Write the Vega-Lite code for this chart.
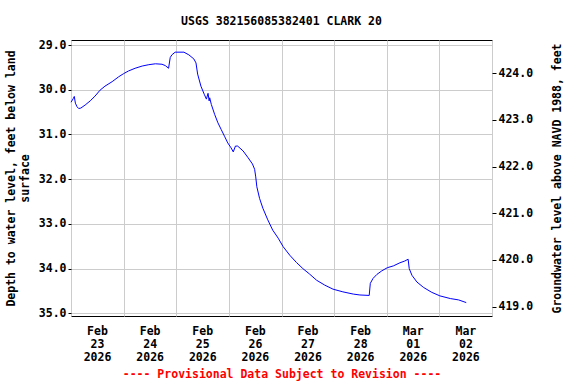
{
  "$schema": "https://vega.github.io/schema/vega-lite/v6.json",
  "autosize": {"type": "none"},
  "padding": {"left": 71, "top": 40, "right": 84, "bottom": 68},
  "width": 421,
  "height": 276,
  "title": {"text": "USGS 382156085382401 CLARK 20", "font": "DejaVu Sans Mono", "fontSize": 11.5, "fontWeight": "bold", "anchor": "middle", "offset": 12, "color": "black"},
  "config": {
    "view": {"stroke": "black", "strokeWidth": 1},
    "axis": {"labelFont": "DejaVu Sans Mono", "labelFontSize": 11.5, "labelFontWeight": "bold", "labelColor": "black", "titleFont": "DejaVu Sans Mono", "titleFontSize": 11.5, "titleFontWeight": "bold", "titleColor": "black", "gridColor": "#cccccc", "gridWidth": 1, "gridOpacity": 1, "domain": false, "tickColor": "black"}
  },
  "datasets": {
    "levels": [
      {"time": "2026-02-23T00:00:00Z", "depth": 30.28},
      {"time": "2026-02-23T01:00:00Z", "depth": 30.2},
      {"time": "2026-02-23T01:30:00Z", "depth": 30.15},
      {"time": "2026-02-23T02:00:00Z", "depth": 30.3},
      {"time": "2026-02-23T02:45:00Z", "depth": 30.38},
      {"time": "2026-02-23T03:30:00Z", "depth": 30.42},
      {"time": "2026-02-23T04:30:00Z", "depth": 30.41},
      {"time": "2026-02-23T06:30:00Z", "depth": 30.34},
      {"time": "2026-02-23T08:45:00Z", "depth": 30.25},
      {"time": "2026-02-23T11:00:00Z", "depth": 30.14},
      {"time": "2026-02-23T13:15:00Z", "depth": 30.01},
      {"time": "2026-02-23T15:30:00Z", "depth": 29.92},
      {"time": "2026-02-23T18:45:00Z", "depth": 29.82},
      {"time": "2026-02-23T21:45:00Z", "depth": 29.71},
      {"time": "2026-02-24T00:00:00Z", "depth": 29.64},
      {"time": "2026-02-24T02:15:00Z", "depth": 29.58},
      {"time": "2026-02-24T05:15:00Z", "depth": 29.52},
      {"time": "2026-02-24T08:30:00Z", "depth": 29.47},
      {"time": "2026-02-24T11:30:00Z", "depth": 29.44},
      {"time": "2026-02-24T14:30:00Z", "depth": 29.42},
      {"time": "2026-02-24T17:30:00Z", "depth": 29.43},
      {"time": "2026-02-24T19:00:00Z", "depth": 29.46},
      {"time": "2026-02-24T20:30:00Z", "depth": 29.52},
      {"time": "2026-02-24T21:15:00Z", "depth": 29.28},
      {"time": "2026-02-24T22:00:00Z", "depth": 29.22},
      {"time": "2026-02-24T23:30:00Z", "depth": 29.16},
      {"time": "2026-02-25T03:30:00Z", "depth": 29.16},
      {"time": "2026-02-25T05:45:00Z", "depth": 29.22},
      {"time": "2026-02-25T08:00:00Z", "depth": 29.31},
      {"time": "2026-02-25T09:00:00Z", "depth": 29.4},
      {"time": "2026-02-25T09:45:00Z", "depth": 29.65},
      {"time": "2026-02-25T11:15:00Z", "depth": 29.92},
      {"time": "2026-02-25T12:45:00Z", "depth": 30.1},
      {"time": "2026-02-25T13:45:00Z", "depth": 30.21},
      {"time": "2026-02-25T14:30:00Z", "depth": 30.08},
      {"time": "2026-02-25T15:00:00Z", "depth": 30.25},
      {"time": "2026-02-25T15:15:00Z", "depth": 30.18},
      {"time": "2026-02-25T16:00:00Z", "depth": 30.33},
      {"time": "2026-02-25T17:30:00Z", "depth": 30.55},
      {"time": "2026-02-25T19:00:00Z", "depth": 30.74},
      {"time": "2026-02-25T20:30:00Z", "depth": 30.89},
      {"time": "2026-02-25T22:00:00Z", "depth": 31.04},
      {"time": "2026-02-25T23:30:00Z", "depth": 31.19},
      {"time": "2026-02-26T01:00:00Z", "depth": 31.3},
      {"time": "2026-02-26T02:00:00Z", "depth": 31.39},
      {"time": "2026-02-26T03:00:00Z", "depth": 31.26},
      {"time": "2026-02-26T04:00:00Z", "depth": 31.26},
      {"time": "2026-02-26T06:30:00Z", "depth": 31.37},
      {"time": "2026-02-26T08:45:00Z", "depth": 31.52},
      {"time": "2026-02-26T10:45:00Z", "depth": 31.66},
      {"time": "2026-02-26T11:45:00Z", "depth": 31.78},
      {"time": "2026-02-26T12:15:00Z", "depth": 31.95},
      {"time": "2026-02-26T12:45:00Z", "depth": 32.17},
      {"time": "2026-02-26T14:00:00Z", "depth": 32.43},
      {"time": "2026-02-26T15:30:00Z", "depth": 32.65},
      {"time": "2026-02-26T17:45:00Z", "depth": 32.91},
      {"time": "2026-02-26T20:00:00Z", "depth": 33.14},
      {"time": "2026-02-26T22:30:00Z", "depth": 33.32},
      {"time": "2026-02-27T00:45:00Z", "depth": 33.51},
      {"time": "2026-02-27T03:45:00Z", "depth": 33.7},
      {"time": "2026-02-27T06:45:00Z", "depth": 33.86},
      {"time": "2026-02-27T09:45:00Z", "depth": 34.0},
      {"time": "2026-02-27T12:45:00Z", "depth": 34.12},
      {"time": "2026-02-27T16:00:00Z", "depth": 34.26},
      {"time": "2026-02-27T19:45:00Z", "depth": 34.37},
      {"time": "2026-02-27T23:30:00Z", "depth": 34.46},
      {"time": "2026-02-28T04:00:00Z", "depth": 34.52},
      {"time": "2026-02-28T08:45:00Z", "depth": 34.57},
      {"time": "2026-02-28T11:45:00Z", "depth": 34.59},
      {"time": "2026-02-28T16:00:00Z", "depth": 34.6},
      {"time": "2026-02-28T16:30:00Z", "depth": 34.33},
      {"time": "2026-02-28T17:45:00Z", "depth": 34.22},
      {"time": "2026-02-28T19:30:00Z", "depth": 34.13},
      {"time": "2026-02-28T21:45:00Z", "depth": 34.05},
      {"time": "2026-03-01T00:15:00Z", "depth": 33.98},
      {"time": "2026-03-01T03:00:00Z", "depth": 33.94},
      {"time": "2026-03-01T06:00:00Z", "depth": 33.87},
      {"time": "2026-03-01T08:15:00Z", "depth": 33.83},
      {"time": "2026-03-01T09:45:00Z", "depth": 33.79},
      {"time": "2026-03-01T10:15:00Z", "depth": 34.0},
      {"time": "2026-03-01T11:30:00Z", "depth": 34.15},
      {"time": "2026-03-01T13:45:00Z", "depth": 34.3},
      {"time": "2026-03-01T16:45:00Z", "depth": 34.42},
      {"time": "2026-03-01T20:30:00Z", "depth": 34.53},
      {"time": "2026-03-02T00:15:00Z", "depth": 34.61},
      {"time": "2026-03-02T05:00:00Z", "depth": 34.67},
      {"time": "2026-03-02T08:45:00Z", "depth": 34.7},
      {"time": "2026-03-02T12:15:00Z", "depth": 34.76}
    ],
    "elevation": [
      {"time": "2026-02-23T00:00:00Z", "elev": 419.0},
      {"time": "2026-03-02T00:00:00Z", "elev": 424.0}
    ]
  },
  "layer": [
    {
      "data": {"name": "levels"},
      "mark": {"type": "line", "color": "#0000ff", "strokeWidth": 1, "interpolate": "linear"},
      "encoding": {
        "x": {
          "field": "time", "type": "temporal",
          "scale": {"type": "utc", "domain": ["2026-02-23T00:00:00Z", "2026-03-03T00:00:00Z"], "nice": false},
          "axis": {
            "tickCount": {"interval": "day", "step": 1},
            "ticks": false,
            "grid": true,
            "labelOffset": 26,
            "labelPadding": 9,
            "labelBaseline": "top",
            "labelLineHeight": 13,
            "labelOverlap": false,
            "labelFlush": false,
            "labelBound": false,
            "labelExpr": "(utcmonth(datum.value) == 2 && utcdate(datum.value) == 3) ? '' : [utcFormat(datum.value, '%b'), utcFormat(datum.value, '%d'), utcFormat(datum.value, '%Y')]",
            "title": "---- Provisional Data Subject to Revision ----",
            "titleColor": "#ff0000",
            "titlePadding": 6
          }
        },
        "y": {
          "field": "depth", "type": "quantitative",
          "scale": {"domain": [28.888, 35.06], "reverse": true, "nice": false, "zero": false},
          "axis": {
            "orient": "left",
            "values": [29, 30, 31, 32, 33, 34, 35],
            "format": ".1f",
            "grid": true,
            "tickSize": 3,
            "labelPadding": 2,
            "title": ["Depth to water level, feet below land", "surface"],
            "titlePadding": 8
          }
        }
      }
    },
    {
      "data": {"name": "elevation"},
      "mark": {"type": "point", "opacity": 0},
      "encoding": {
        "x": {"field": "time", "type": "temporal"},
        "y": {
          "field": "elev", "type": "quantitative",
          "scale": {"domain": [418.8, 424.714], "nice": false, "zero": false},
          "axis": {
            "orient": "right",
            "values": [419, 420, 421, 422, 423, 424],
            "format": ".1f",
            "grid": false,
            "tickSize": 4,
            "labelPadding": 2,
            "title": "Groundwater level above NAVD 1988, feet",
            "titleAngle": -90,
            "titlePadding": 30
          }
        }
      }
    }
  ],
  "resolve": {"scale": {"y": "independent"}}
}
